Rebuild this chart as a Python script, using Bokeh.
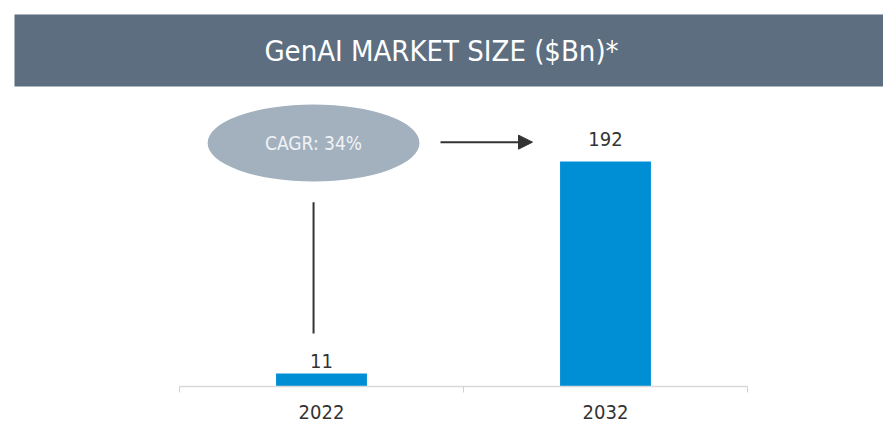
from bokeh.plotting import figure
from bokeh.models import (Range1d, FixedTicker, ColumnDataSource, Arrow, NormalHead,
                          BoxAnnotation, Label)
from bokeh.core.properties import value
from bokeh.embed import file_html
from bokeh.resources import INLINE

# ---- data ----
years = ["2022", "2032"]
market_size = [11, 192]
cagr_text = "CAGR: 34%"
title_text = "GenAI MARKET SIZE ($Bn)*"

FONT = "DejaVu Sans Condensed"
BAR_COLOR = "#008fd5"
TEXT_COLOR = "#333333"

W, H = 883, 422
AX_BOTTOM = 36                 # px below the frame for the category axis
PLOT_L, PLOT_R = 179, 747      # pixel span of the category axis
PX_PER_CAT = (PLOT_R - PLOT_L) / len(years)
PX_PER_UNIT = 1.172

xpos = [i + 0.5 for i in range(len(years))]
src = ColumnDataSource(dict(x=xpos, top=market_size,
                            label=[str(v) for v in market_size],
                            yoff=[-6, -15]))

frame_h = H - AX_BOTTOM
p = figure(width=W, height=H, output_backend="svg", toolbar_location=None,
           x_range=Range1d(-PLOT_L / PX_PER_CAT, len(years) + (W - PLOT_R) / PX_PER_CAT),
           y_range=Range1d(0, frame_h / PX_PER_UNIT),
           min_border_left=0, min_border_right=0,
           min_border_top=0, min_border_bottom=AX_BOTTOM,
           outline_line_color=None)
p.grid.visible = False
p.yaxis.visible = False

# banner (screen units are relative to the frame, y measured upward from its bottom)
p.add_layout(BoxAnnotation(left=14, right=W, top=frame_h - 14, bottom=frame_h - 86,
                           left_units="screen", right_units="screen",
                           top_units="screen", bottom_units="screen",
                           fill_color="#5c6e80", fill_alpha=1, line_color=None,
                           level="underlay"))
p.add_layout(Label(x=441, y=frame_h - 50, x_units="screen", y_units="screen",
                   text=title_text, text_align="center",
                   text_baseline="middle", text_color="white",
                   text_font=FONT, text_font_size="29px"))

p.vbar(x="x", top="top", width=0.32, bottom=0, source=src,
       fill_color=BAR_COLOR, line_color=None)
p.text(x="x", y="top", text="label", source=src, y_offset="yoff",
       text_align="center", text_baseline="bottom", text_color=TEXT_COLOR,
       text_font=value(FONT), text_font_size="20px")

xa = p.xaxis[0]
xa.bounds = (0, len(years))
xa.ticker = FixedTicker(ticks=xpos, minor_ticks=[float(i) for i in range(len(years) + 1)])
xa.major_label_overrides = {x: y for x, y in zip(xpos, years)}
xa.major_tick_line_color = None
xa.major_tick_out = 0
xa.major_tick_in = 0
xa.minor_tick_line_color = "#d0d0d0"
xa.minor_tick_out = 6
xa.minor_tick_in = 0
xa.axis_line_color = "#d9d9d9"
xa.axis_line_width = 1.5
xa.major_label_standoff = 12
xa.major_label_text_font = FONT
xa.major_label_text_font_size = "20px"
xa.major_label_text_color = TEXT_COLOR

# CAGR annotation
p.ellipse(x=[0.472], y=[207.8], width=0.746, height=65.7,
          fill_color="#a3b1bf", line_color=None)
p.text(x=[0.472], y=[207.8], text=[cagr_text], text_align="center",
       text_baseline="middle", text_color="#f0f3f6",
       text_font=value(FONT), text_font_size="19px")
p.add_layout(Arrow(x_start=0.919, y_start=208.5, x_end=1.243, y_end=208.5,
                   line_color=TEXT_COLOR, line_width=2,
                   end=NormalHead(size=14, fill_color=TEXT_COLOR, line_color=TEXT_COLOR)))
p.segment(x0=[0.472], y0=[157.3], x1=[0.472], y1=[45.2],
          line_color=TEXT_COLOR, line_width=2)

open("out.html", "w").write(file_html(p, INLINE))
